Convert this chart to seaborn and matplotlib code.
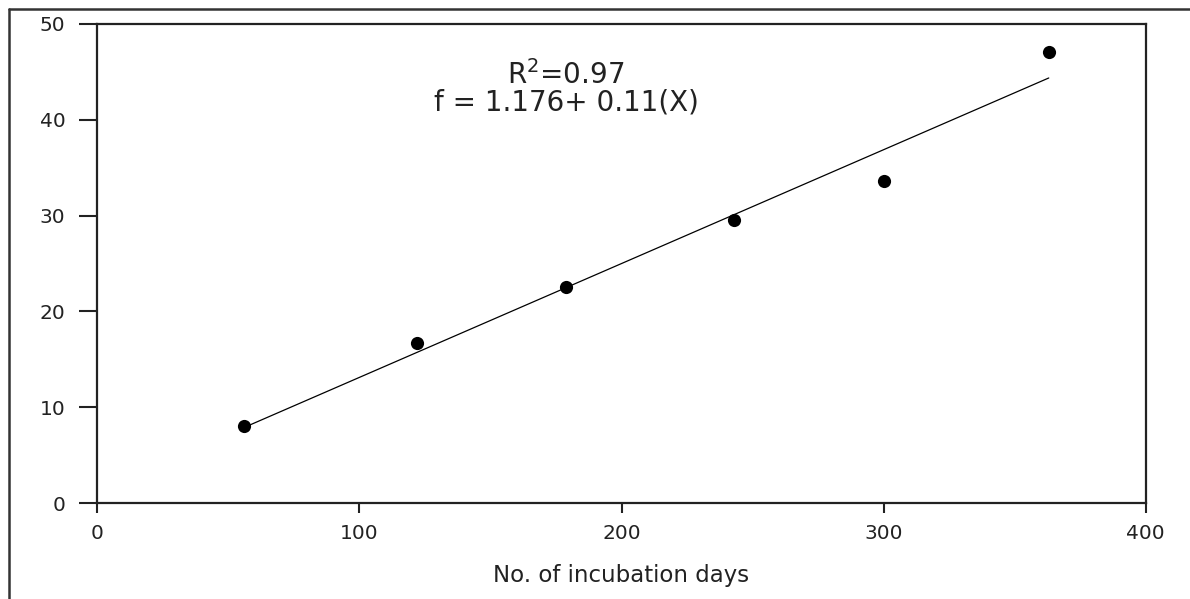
#!/usr/bin/env python3
"""培养天数回归图"""
import pandas as pd
import matplotlib
matplotlib.use('Agg')
import matplotlib.pyplot as plt
import seaborn as sns
from matplotlib.lines import Line2D

sns.set_style('white')
plt.rcParams['font.family'] = ['DejaVu Sans']

# 数据
days = [56, 122, 179, 243, 300, 363]
values = [8.0, 16.7, 22.6, 29.5, 33.6, 47.1]
x_ticks = [0, 100, 200, 300, 400]
y_ticks = [0, 10, 20, 30, 40, 50]
x_label = 'No. of incubation days'
eq_text = 'R$^2$=0.97\nf = 1.176+ 0.11(X)'

df = pd.DataFrame({'days': days, 'value': values})

fig = plt.figure(figsize=(11.9, 5.99), dpi=100)
ax = fig.add_axes([0.0818, 0.160, 0.881, 0.800])

sns.regplot(data=df, x='days', y='value', ax=ax, ci=None,
            scatter_kws={'s': 90, 'color': 'black', 'edgecolor': 'black', 'linewidths': 0, 'alpha': 1},
            line_kws={'color': 'black', 'linewidth': 0.9})

ax.set_xlim(0, 400)
ax.set_ylim(0, 50)
ax.set_xticks(x_ticks)
ax.set_yticks(y_ticks)
ax.set_xlabel(x_label, fontsize=16.5, labelpad=15, color='#222222')
ax.set_ylabel('')

for s in ax.spines.values():
    s.set_color('#222222')
    s.set_linewidth(1.6)

ax.tick_params(axis='y', direction='out', length=13, width=1.5, colors='#222222',
               labelsize=14.5, pad=10, left=True)
ax.tick_params(axis='x', direction='out', length=7, width=1.5, colors='#222222',
               labelsize=14.5, pad=8, bottom=True)

ax.text(0.447, 0.866, eq_text, transform=ax.transAxes, ha='center', va='center',
        fontsize=20, color='#222222', linespacing=0.95)

# 外框
fig.add_artist(Line2D([9 / 1190, 9 / 1190], [0, 1 - 9 / 599], transform=fig.transFigure,
                      color='#333333', linewidth=1.8))
fig.add_artist(Line2D([9 / 1190, 1], [1 - 9 / 599, 1 - 9 / 599], transform=fig.transFigure,
                      color='#333333', linewidth=1.8))

plt.savefig('out.png', dpi=100)
